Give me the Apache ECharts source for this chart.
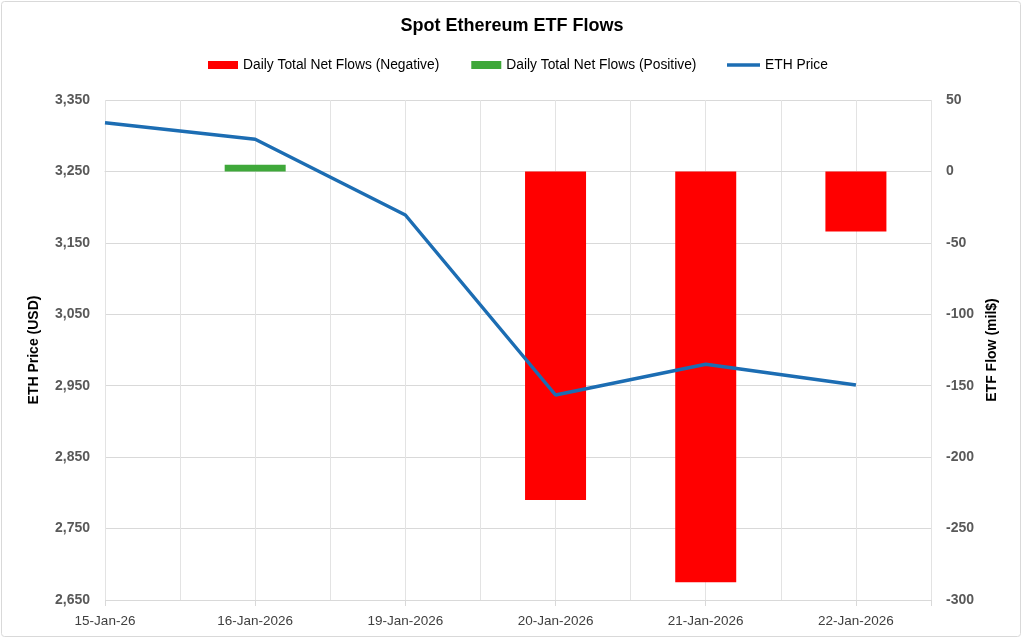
<!DOCTYPE html>
<html>
<head>
<meta charset="utf-8">
<script src="https://cdn.jsdelivr.net/npm/echarts@6/dist/echarts.min.js"></script>
<style>
html,body{margin:0;padding:0;background:#fff;}
#chart{width:1024px;height:640px;}
</style>
</head>
<body>
<div id="chart"></div>
<script>
const categories = ['15-Jan-26', '16-Jan-2026', '19-Jan-2026', '20-Jan-2026', '21-Jan-2026', '22-Jan-2026'];
const ethPrice = [3318, 3295, 3189, 2937, 2980, 2951];
const flowsNegative = [null, null, null, -230, -287.5, -42];
const flowsPositive = [null, 4.6, null, null, null, null];
const priceTicks = { min: 2650, max: 3350, step: 100 };
const flowTicks = { min: -300, max: 50, step: 50 };

const toPairs = arr => arr.map((v, i) => v == null ? null : [i, v]).filter(p => p);

const font = "'Liberation Sans', Arial, sans-serif";
const chart = echarts.init(document.getElementById('chart'));
chart.setOption({
  animation: false,
  backgroundColor: '#fff',
  title: {
    text: 'Spot Ethereum ETF Flows',
    left: 'center', top: 12,
    textStyle: { fontFamily: font, fontWeight: 'bold', fontSize: 18, color: '#000' }
  },
  legend: [{
    top: 53, left: 203,
    itemWidth: 30, itemHeight: 8, itemGap: 32,
    textStyle: { fontFamily: font, fontSize: 13.8, color: '#000' },
    data: [
      { name: 'Daily Total Net Flows (Negative)', icon: 'rect' },
      { name: 'Daily Total Net Flows (Positive)', icon: 'rect' }
    ]
  }, {
    top: 53, left: 722,
    itemWidth: 33, itemHeight: 3.5,
    textStyle: { fontFamily: font, fontSize: 13.8, color: '#000' },
    data: [{ name: 'ETH Price', icon: 'rect' }]
  }],
  graphic: [{
    type: 'rect', silent: true,
    shape: { x: 1.5, y: 1.5, width: 1019, height: 635, r: 3 },
    style: { fill: 'none', stroke: '#d9d9d9', lineWidth: 1 }
  }],
  grid: { left: 105, right: 93, top: 100, bottom: 40 },
  xAxis: [{
    type: 'value', min: 0, max: categories.length - 0.5, interval: 0.5,
    axisLine: { show: true, lineStyle: { color: '#d9d9d9' } },
    axisTick: { show: false },
    splitLine: { show: true, lineStyle: { color: '#e3e3e3' } },
    axisLabel: {
      margin: 14, fontFamily: font, fontSize: 13.5, color: '#404040',
      showMinLabel: true, showMaxLabel: true,
      formatter: v => Number.isInteger(v) ? categories[v] : ''
    }
  }, {
    type: 'value', min: 0, max: categories.length - 0.5, interval: 1, position: 'bottom',
    axisLine: { show: false },
    axisTick: { show: true, length: 6, lineStyle: { color: '#d9d9d9' } },
    splitLine: { show: false },
    axisLabel: { show: false }
  }],
  yAxis: [{
    type: 'value', min: priceTicks.min, max: priceTicks.max, interval: priceTicks.step,
    name: 'ETH Price (USD)', nameLocation: 'middle', nameGap: 64, nameRotate: 90,
    nameTextStyle: { fontFamily: font, fontWeight: 'bold', fontSize: 14, color: '#000' },
    axisLine: { show: false }, axisTick: { show: false },
    splitLine: { show: true, lineStyle: { color: '#d9d9d9' } },
    axisLabel: {
      margin: 15, fontFamily: font, fontWeight: 'bold', fontSize: 14, color: '#595959',
      formatter: v => v.toLocaleString('en-US')
    }
  }, {
    type: 'value', min: flowTicks.min, max: flowTicks.max, interval: flowTicks.step, position: 'right',
    name: 'ETF Flow (mil$)', nameLocation: 'middle', nameGap: 53, nameRotate: 90,
    nameTextStyle: { fontFamily: font, fontWeight: 'bold', fontSize: 14, color: '#000' },
    axisLine: { show: false }, axisTick: { show: false },
    splitLine: { show: false },
    axisLabel: {
      margin: 15, fontFamily: font, fontWeight: 'bold', fontSize: 14, color: '#595959'
    }
  }],
  series: [{
    name: 'Daily Total Net Flows (Negative)', type: 'bar', yAxisIndex: 1,
    barWidth: 61, barGap: '-100%',
    itemStyle: { color: '#ff0000' },
    data: toPairs(flowsNegative)
  }, {
    name: 'Daily Total Net Flows (Positive)', type: 'bar', yAxisIndex: 1,
    barWidth: 61, barGap: '-100%',
    itemStyle: { color: '#3fa83a' },
    data: toPairs(flowsPositive)
  }, {
    name: 'ETH Price', type: 'line', yAxisIndex: 0, z: 5,
    symbol: 'none', showSymbol: false,
    lineStyle: { color: '#1c6db3', width: 3.5 },
    itemStyle: { color: '#1c6db3' },
    data: toPairs(ethPrice)
  }]
});
</script>
</body>
</html>
